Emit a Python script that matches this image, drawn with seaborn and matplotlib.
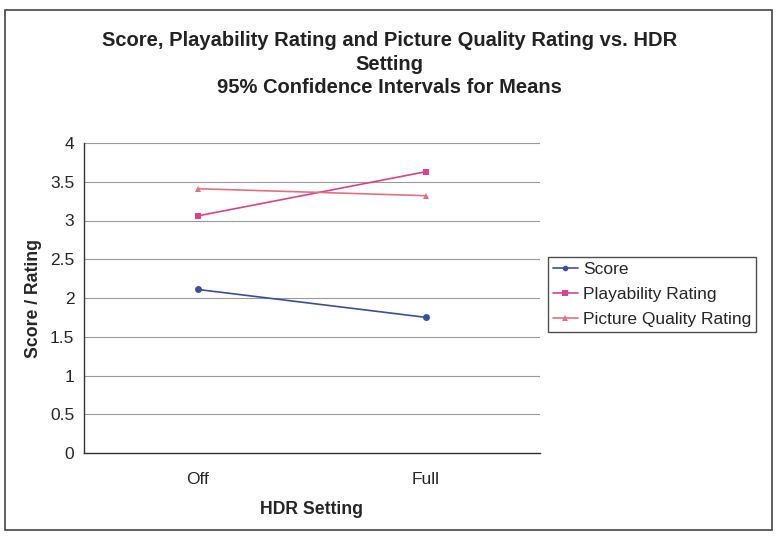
import matplotlib
matplotlib.use("Agg")
import matplotlib.pyplot as plt
import pandas as pd
import seaborn as sns
from matplotlib.patches import Rectangle

# data
hdr = ["Off", "Full"]
score = [2.11, 1.75]
playability = [3.06, 3.63]
picture_quality = [3.41, 3.32]

series_names = ["Score", "Playability Rating", "Picture Quality Rating"]
colors = ["#3a4f9e", "#e0408c", "#e8707e"]
markers = ["o", "s", "^"]

rows = []
for name, vals in zip(series_names, [score, playability, picture_quality]):
    for i, v in enumerate(vals):
        rows.append({"HDR": i, "value": v, "series": name})
df = pd.DataFrame(rows)

sns.set_style("white")
plt.rcParams["font.family"] = ["Liberation Sans", "DejaVu Sans"]

fig = plt.figure(figsize=(7.79, 5.4), dpi=100)
ax = fig.add_axes([84 / 779, 1 - 453 / 540, (540 - 84) / 779, (453 - 143) / 540])

sns.lineplot(data=df, x="HDR", y="value", hue="series", style="series",
             palette=dict(zip(series_names, colors)),
             markers=dict(zip(series_names, markers)), dashes=False,
             markersize=5, linewidth=1.2, markeredgewidth=0, ax=ax, legend=False)

ax.set_xlim(-0.5, 1.5)
ax.set_ylim(0, 4)
ax.set_yticks([0, 0.5, 1, 1.5, 2, 2.5, 3, 3.5, 4])
ax.set_yticklabels(["0", "0.5", "1", "1.5", "2", "2.5", "3", "3.5", "4"])
ax.set_xticks([0, 1])
ax.set_xticklabels(hdr)
ax.set_xticks([-0.5, 0.5, 1.5], minor=True)
ax.tick_params(axis="x", which="major", length=0, pad=14, labelsize=12.5)
ax.tick_params(axis="x", which="minor", length=5, direction="out", color="#333333")
ax.tick_params(axis="y", length=4, direction="out", color="#333333", labelsize=12.5, pad=3)
ax.grid(axis="y", color="#9a9a9a", linewidth=0.8)
ax.set_axisbelow(True)
for s in ["top", "right"]:
    ax.spines[s].set_visible(False)
for s in ["left", "bottom"]:
    ax.spines[s].set_color("#333333")
    ax.spines[s].set_linewidth(1.0)

ax.set_xlabel("HDR Setting", fontsize=12.7, fontweight="bold", labelpad=10)
ax.set_ylabel("Score / Rating", fontsize=12.7, fontweight="bold", labelpad=6)

fig.text(0.5, 1 - 64 / 540, "Score, Playability Rating and Picture Quality Rating vs. HDR\nSetting\n95% Confidence Intervals for Means",
         ha="center", va="center", fontsize=14.5, fontweight="bold", linespacing=1.3,
         color="#222222")

handles = [plt.Line2D([], [], color=c, marker=m, markersize=4, markeredgewidth=0, linewidth=1.2)
           for c, m in zip(colors, markers)]
leg = fig.legend(handles, series_names, loc="upper left",
                 bbox_to_anchor=(548 / 779, 1 - 257 / 540), frameon=True, fancybox=False,
                 fontsize=12.5, handlelength=1.4, handletextpad=0.3, borderpad=0.3,
                 labelspacing=0.55, borderaxespad=0)
leg.get_frame().set_edgecolor("#222222")
leg.get_frame().set_linewidth(1.0)

fig.patches.append(Rectangle((5 / 779, 10 / 540), 767 / 779, 520 / 540, transform=fig.transFigure,
                             fill=False, edgecolor="#444444", linewidth=1.2))

fig.savefig("out.png", dpi=100)
